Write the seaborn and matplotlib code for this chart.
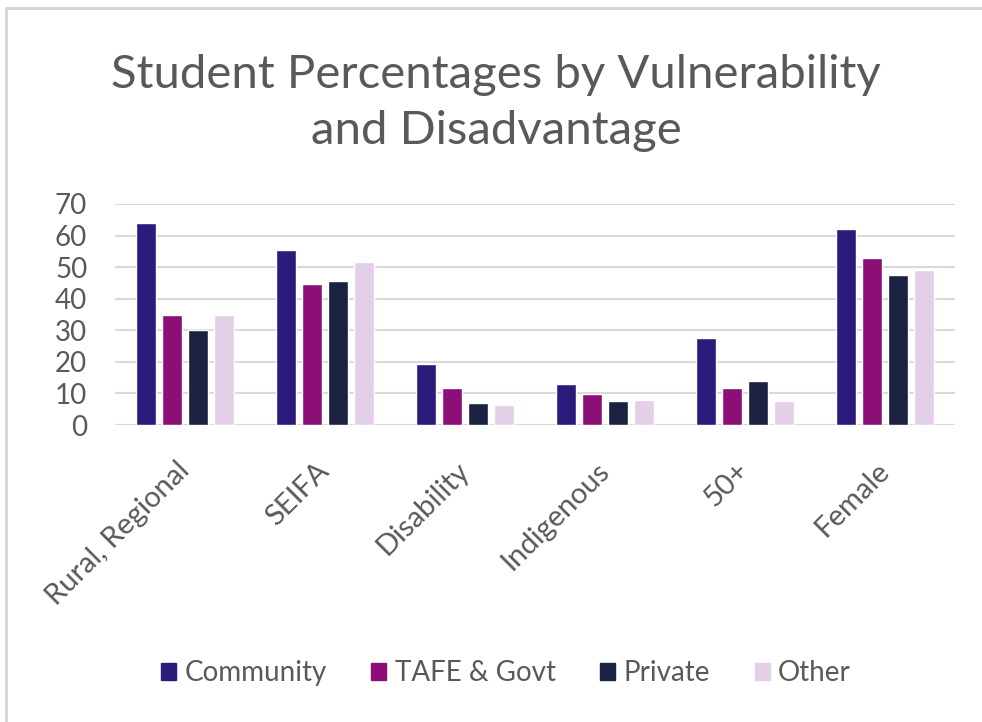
import matplotlib
matplotlib.use("Agg")
import matplotlib.pyplot as plt
import seaborn as sns
import pandas as pd
from matplotlib.lines import Line2D
from matplotlib.patches import Patch

categories = ["Rural, Regional", "SEIFA", "Disability", "Indigenous", "50+", "Female"]
series_names = ["Community", "TAFE & Govt", "Private", "Other"]
community = [64, 55.5, 19.4, 13, 27.5, 62.2]
tafe_govt = [35, 44.7, 11.8, 9.7, 11.6, 52.9]
private = [30, 45.5, 6.9, 7.7, 14, 47.6]
other = [35, 51.5, 6.3, 7.9, 7.7, 49.2]
yticks = [0, 10, 20, 30, 40, 50, 60, 70]

colors = ["#2d1b7c", "#8c0f78", "#1b2140", "#e4cfe8"]

rows = []
for name, vals in zip(series_names, [community, tafe_govt, private, other]):
    for c, v in zip(categories, vals):
        rows.append({"Category": c, "Series": name, "Value": v})
df = pd.DataFrame(rows)

sns.set_theme(style="white")
plt.rcParams['font.family'] = ['Lato', 'DejaVu Sans']

fig = plt.figure(figsize=(9.82, 7.22), dpi=100)
ax = fig.add_axes([115/982, 1 - 425/722, 840/982, 221/722])

sns.barplot(data=df, x="Category", y="Value", hue="Series", order=categories,
            hue_order=series_names, palette=colors, width=0.74, gap=0.22,
            saturation=1, ax=ax, legend=False)

ax.set_ylim(0, 70)
ax.set_xlim(-0.5, 5.5)
ax.set_yticks(yticks)
ax.set_yticklabels([str(t) for t in yticks], fontsize=20, color="#595959")
ax.set_xticks(range(len(categories)))
ax.set_xticklabels(categories, fontsize=21, color="#595959", rotation=45,
                   ha="right", va="center", rotation_mode="anchor")
ax.tick_params(axis="y", length=0, pad=20)
ax.tick_params(axis="x", length=0, pad=30)
ax.set_xlabel("")
ax.set_ylabel("")
for t in yticks:
    ax.axhline(t, color="#d9d9d9", lw=1.5, zorder=0)
for s in ax.spines.values():
    s.set_visible(False)
ax.set_axisbelow(True)

fig.text(0.505, 1 - 75/722, "Student Percentages by Vulnerability", ha="center",
         va="center", fontsize=34, color="#595959")
fig.text(0.505, 1 - 131/722, "and Disadvantage", ha="center",
         va="center", fontsize=34, color="#595959")

handles = [Patch(facecolor=c, edgecolor=c) for c in colors]
fig.legend(handles, series_names, loc="center", bbox_to_anchor=(0.515, 1 - 673/722),
           ncol=4, frameon=False, fontsize=20, handletextpad=0.3,
           handlelength=0.55, handleheight=0.55,
           columnspacing=1.6, labelcolor="#595959")

# faint outer frame (left and top)
fig.add_artist(Line2D([6/982, 6/982], [0, 1 - 8/722], transform=fig.transFigure,
                      color="#d4d4d4", lw=2))
fig.add_artist(Line2D([6/982, 1], [1 - 8/722, 1 - 8/722], transform=fig.transFigure,
                      color="#d4d4d4", lw=2))

fig.savefig("out.png", dpi=100)
